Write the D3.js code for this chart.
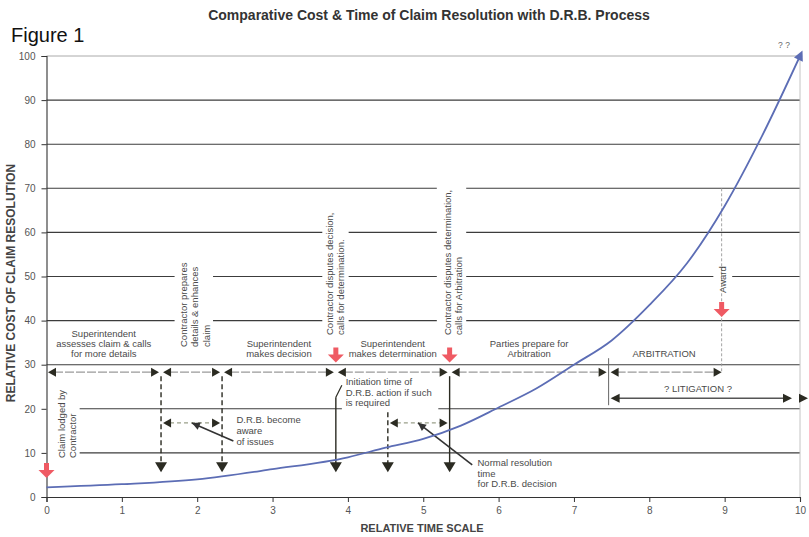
<!DOCTYPE html>
<html><head><meta charset="utf-8">
<script src="https://cdn.jsdelivr.net/npm/d3@7"></script>
<style>
body{margin:0;background:#fff}
svg{display:block}
text{font-family:Arial,"Liberation Sans",sans-serif}
</style>
</head><body>
<svg id="chart" width="809" height="537"></svg>
<script>
// ---------------- DATA ----------------
const timeScale    = [0, 1, 2, 3, 4, 4.5, 5, 5.5, 6, 6.5, 7, 7.5, 8, 8.5, 9, 9.5, 10];
const relativeCost = [2.2, 2.9, 4.0, 6.3, 9.0, 11.2, 13.2, 16.2, 20.3, 24.6, 30, 35.5, 43.5, 53, 66, 82, 100];
const xTicks = [0, 1, 2, 3, 4, 5, 6, 7, 8, 9, 10];
const yTicks = [0, 10, 20, 30, 40, 50, 60, 70, 80, 90, 100];

// process phase boundaries (relative time) and their labels
const phaseBounds = [0, 1.52, 2.33, 3.84, 5.35, 7.46];
const phaseLabels = [
  ["Superintendent", "assesses claim & calls", "for more details"],
  [],
  ["Superintendent", "makes decision"],
  ["Superintendent", "makes determination"],
  ["Parties prepare for", "Arbitration"]
];
const phaseRowCost = 28.3;
const arbitrationEnd = 8.96;
const litigationRowCost = 22.4;
const drbRowCost = 16.8;
const drbWindows = [[1.52, 2.33], [4.53, 5.35]];
const downArrowTimes = [1.52, 2.33, 3.84, 4.53, 5.35];
const eventTimes = [0, 3.84, 5.35, 8.96];          // red markers
const eventCosts = [4.3, 30.5, 30.5, 40.8];        // tip level of red markers
const verticalNotes = [
  {t: 0,    lines: ["Claim lodged by", "Contractor"]},
  {t: 1.85, lines: ["Contractor prepares", "details & enhances", "claim"]},
  {t: 3.84, lines: ["Contractor disputes decision,", "calls for determination."]},
  {t: 5.35, lines: ["Contractor disputes determination,", "calls for Arbitration"]},
  {t: 8.96, lines: ["Award"]}
];

// ---------------- LAYOUT ----------------
const svg = d3.select("#chart");
const x = d3.scaleLinear().domain([0, 10]).range([46.5, 800]);
const y = d3.scaleLinear().domain([0, 100]).range([497, 56]);
const DARK = "#2b2b22", RED = "#ef5a63", TXT = "#4a4a4a";

// title
svg.append("text").attr("x", 429).attr("y", 20).attr("text-anchor", "middle")
  .attr("font-size", 14).attr("font-weight", "bold").attr("fill", "#333")
  .text("Comparative Cost & Time of Claim Resolution with D.R.B. Process");
svg.append("text").attr("x", 11).attr("y", 42).attr("font-size", 20).attr("fill", "#111")
  .text("Figure 1");

// gridlines with gaps where vertical notes sit (gaps in time units)
const gridGaps = {
  10: [[0, 0.44]],
  20: [[0, 0.44], [3.92, 5.2]],
  40: [[1.7, 2.21], [3.66, 4.01], [5.18, 5.57]],
  50: [[1.7, 2.21], [3.66, 4.01], [5.18, 5.57], [8.85, 9.1]],
  60: [[3.66, 4.01], [5.18, 5.57]],
  70: [[5.18, 5.57]]
};
const grid = svg.append("g");
yTicks.filter(v => v > 0).forEach(v => {
  const gaps = (gridGaps[v] || []).slice().sort((a, b) => a[0] - b[0]);
  let start = 0;
  const segs = [];
  gaps.forEach(g => { if (g[0] > start) segs.push([start, g[0]]); start = g[1]; });
  if (start < 10) segs.push([start, 10]);
  segs.forEach(s => grid.append("line")
    .attr("x1", x(s[0])).attr("x2", x(s[1])).attr("y1", y(v)).attr("y2", y(v))
    .attr("stroke", v === 100 ? "#a0a0a0" : "#3c3c3c").attr("stroke-width", v === 100 ? 0.9 : 1.1));
});
// right frame line
svg.append("line").attr("x1", x(10)).attr("x2", x(10)).attr("y1", y(100)).attr("y2", y(0))
  .attr("stroke", "#c4c4c4").attr("stroke-width", 1);

// axes
const yAxis = svg.append("g").attr("transform", `translate(${x(0)},0)`)
  .call(d3.axisLeft(y).tickValues(yTicks).tickSize(5).tickPadding(6));
const xAxis = svg.append("g").attr("transform", `translate(0,${y(0)})`)
  .call(d3.axisBottom(x).tickValues(xTicks).tickSize(5).tickPadding(5));
[yAxis, xAxis].forEach(a => {
  a.select(".domain").attr("stroke", "#333").attr("stroke-width", 1.1);
  a.selectAll(".tick line").attr("stroke", "#333");
  a.selectAll(".tick text").attr("font-size", 10).attr("fill", "#555")
    .attr("font-family", "Arial, 'Liberation Sans', sans-serif");
});
svg.append("text").attr("x", 422).attr("y", 532).attr("text-anchor", "middle")
  .attr("font-size", 11).attr("font-weight", "bold").attr("fill", "#444").text("RELATIVE TIME SCALE");
svg.append("text").attr("transform", "translate(15,283) rotate(-90)").attr("text-anchor", "middle")
  .attr("font-size", 12).attr("font-weight", "bold").attr("fill", "#444")
  .text("RELATIVE COST OF CLAIM RESOLUTION");

// ---------- helpers ----------
const ann = svg.append("g");
function triH(tipX, cy, dir, w = 8, h = 9) { // dir: +1 right, -1 left
  ann.append("path").attr("d", `M${tipX},${cy}L${tipX - dir * w},${cy - h / 2}L${tipX - dir * w},${cy + h / 2}Z`).attr("fill", DARK);
}
function triDown(cx, tipY, w = 12, h = 10) {
  ann.append("path").attr("d", `M${cx},${tipY}L${cx - w / 2},${tipY - h}L${cx + w / 2},${tipY - h}Z`).attr("fill", DARK);
}
function redArrow(cx, tipY) {
  ann.append("path").attr("d",
    `M${cx},${tipY}L${cx - 8},${tipY - 8}L${cx - 2.5},${tipY - 8}L${cx - 2.5},${tipY - 15}L${cx + 2.5},${tipY - 15}L${cx + 2.5},${tipY - 8}L${cx + 8},${tipY - 8}Z`)
    .attr("fill", RED);
}
function multiText(lines, px, py, anchor, size = 9.5, lh = 10.5) {
  const t = ann.append("text").attr("x", px).attr("y", py).attr("text-anchor", anchor)
    .attr("font-size", size).attr("fill", TXT);
  lines.forEach((l, i) => t.append("tspan").attr("x", px).attr("dy", i === 0 ? 0 : lh).text(l));
}

// ---------- phase row ----------
const rowY = y(phaseRowCost);
for (let i = 0; i < phaseBounds.length - 1; i++) {
  const a = x(phaseBounds[i]) + (i === 0 ? 1.5 : 2), b = x(phaseBounds[i + 1]) - 2;
  ann.append("line").attr("x1", a + 6).attr("x2", b - 6).attr("y1", rowY).attr("y2", rowY)
    .attr("stroke", "#9a9a9a").attr("stroke-width", 1.2).attr("stroke-dasharray", "9,2");
  triH(a, rowY, -1); triH(b, rowY, 1);
  if (phaseLabels[i].length) {
    const cx = x((phaseBounds[i] + phaseBounds[i + 1]) / 2);
    const n = phaseLabels[i].length;
    multiText(phaseLabels[i], cx, rowY - 15 - (n - 1) * 10.3, "middle", 9.5, 10.3);
  }
}
// arbitration
const aStart = x(phaseBounds[phaseBounds.length - 1]) + 2, aEnd = x(arbitrationEnd);
ann.append("line").attr("x1", aStart + 6).attr("x2", aEnd - 6).attr("y1", rowY).attr("y2", rowY)
  .attr("stroke", "#9a9a9a").attr("stroke-width", 1.2).attr("stroke-dasharray", "9,2");
triH(aStart, rowY, -1); triH(aEnd, rowY, 1);
multiText(["ARBITRATION"], (aStart + aEnd) / 2 - 2, rowY - 15, "middle");
ann.append("line").attr("x1", x(7.46)).attr("x2", x(7.46)).attr("y1", rowY - 14).attr("y2", y(litigationRowCost) + 7)
  .attr("stroke", "#666").attr("stroke-width", 1);
// litigation
const lY = y(litigationRowCost);
ann.append("line").attr("x1", aStart + 4).attr("x2", x(10) - 10).attr("y1", lY).attr("y2", lY)
  .attr("stroke", "#555").attr("stroke-width", 1.4);
triH(aStart, lY, -1, 9, 9); triH(x(10) - 8, lY, 1, 9, 9); triH(x(10) + 8, lY, 1, 9, 9);
multiText(["? LITIGATION ?"], x(8.5) + 11, lY - 6, "middle");
// award dashed guide
ann.append("line").attr("x1", x(arbitrationEnd)).attr("x2", x(arbitrationEnd)).attr("y1", y(70)).attr("y2", rowY)
  .attr("stroke", "#9a9a9a").attr("stroke-width", 0.9).attr("stroke-dasharray", "3,2");

// ---------- verticals to down arrows ----------
const downTip = y(5.6);
downArrowTimes.forEach(t => {
  const px = x(t);
  let top = rowY + 4, dash = "5,3", col = DARK;
  if (t === 3.84) { top = rowY + 25; dash = null; }
  if (t === 5.35) { dash = null; }
  if (t === 4.53) { top = y(19.2); }
  const l = ann.append("line").attr("x1", px).attr("x2", px).attr("y1", top).attr("y2", downTip - 9)
    .attr("stroke", col).attr("stroke-width", 1.4);
  if (dash) l.attr("stroke-dasharray", dash);
  triDown(px, downTip);
});
// initiation leader kink
ann.append("line").attr("x1", x(3.84)).attr("y1", rowY + 25).attr("x2", x(3.84) + 6).attr("y2", rowY + 13)
  .attr("stroke", DARK).attr("stroke-width", 1.2);

// ---------- DRB windows ----------
const dY = y(drbRowCost);
drbWindows.forEach(w => {
  const a = x(w[0]) + 2, b = x(w[1]) - 2;
  ann.append("line").attr("x1", a + 7).attr("x2", b - 7).attr("y1", dY).attr("y2", dY)
    .attr("stroke", "#9aa08a").attr("stroke-width", 1.2).attr("stroke-dasharray", "4,3");
  triH(a, dY, -1); triH(b, dY, 1);
});
// leaders
function leader(x1, y1, x2, y2) {
  ann.append("line").attr("x1", x1).attr("y1", y1).attr("x2", x2).attr("y2", y2)
    .attr("stroke", "#333").attr("stroke-width", 1.6);
  const ang = Math.atan2(y2 - y1, x2 - x1), L = 8, W = 4;
  const bx = x2 - L * Math.cos(ang), by = y2 - L * Math.sin(ang);
  ann.append("path").attr("d",
    `M${x2},${y2}L${bx - W * Math.sin(ang)},${by + W * Math.cos(ang)}L${bx + W * Math.sin(ang)},${by - W * Math.cos(ang)}Z`)
    .attr("fill", "#333");
}
leader(x(2.48), dY + 18, x(1.93), dY);
leader(x(5.65), dY + 42, x(4.93), dY);
multiText(["D.R.B. become", "aware", "of issues"], x(2.52), dY, "start", 9.5, 10.8);
multiText(["Initiation time of", "D.R.B. action if such", "is required"], x(3.97), rowY + 13, "start", 9.5, 10.6);
multiText(["Normal resolution", "time", "for D.R.B. decision"], x(5.72), dY + 43, "start", 9.5, 10.6);

// ---------- vertical notes ----------
const vOffsets = [[18, 458], [1, 347], [-3, 335], [1, 335], [4, 293]];
verticalNotes.forEach((n, i) => {
  const px = x(n.t) + vOffsets[i][0];
  const t = ann.append("text").attr("transform", `translate(${px},${vOffsets[i][1]}) rotate(-90)`)
    .attr("font-size", 9.5).attr("fill", TXT);
  n.lines.forEach((l, j) => t.append("tspan").attr("x", 0).attr("y", j * 11.5).text(l));
});

// ---------- red event markers ----------
eventTimes.forEach((t, i) => redArrow(x(t), y(eventCosts[i])));

// ---------- cost curve ----------
svg.append("defs").append("marker").attr("id", "ah").attr("viewBox", "0 0 10 10")
  .attr("refX", 4).attr("refY", 5).attr("markerWidth", 6.5).attr("markerHeight", 5.5)
  .attr("orient", "auto").attr("markerUnits", "strokeWidth")
  .append("path").attr("d", "M0,0L10,5L0,10Z").attr("fill", "#5c6db5");
const pts = timeScale.map((t, i) => [t, relativeCost[i]]);
svg.append("path").datum(pts)
  .attr("d", d3.line().x(d => x(d[0])).y(d => y(d[1])).curve(d3.curveMonotoneX))
  .attr("fill", "none").attr("stroke", "#5c6db5").attr("stroke-width", 1.8)
  .attr("marker-end", "url(#ah)");
svg.append("text").attr("x", 784).attr("y", 48).attr("text-anchor", "middle")
  .attr("font-size", 8.5).attr("fill", "#666").text("? ?");
</script>
</body></html>
